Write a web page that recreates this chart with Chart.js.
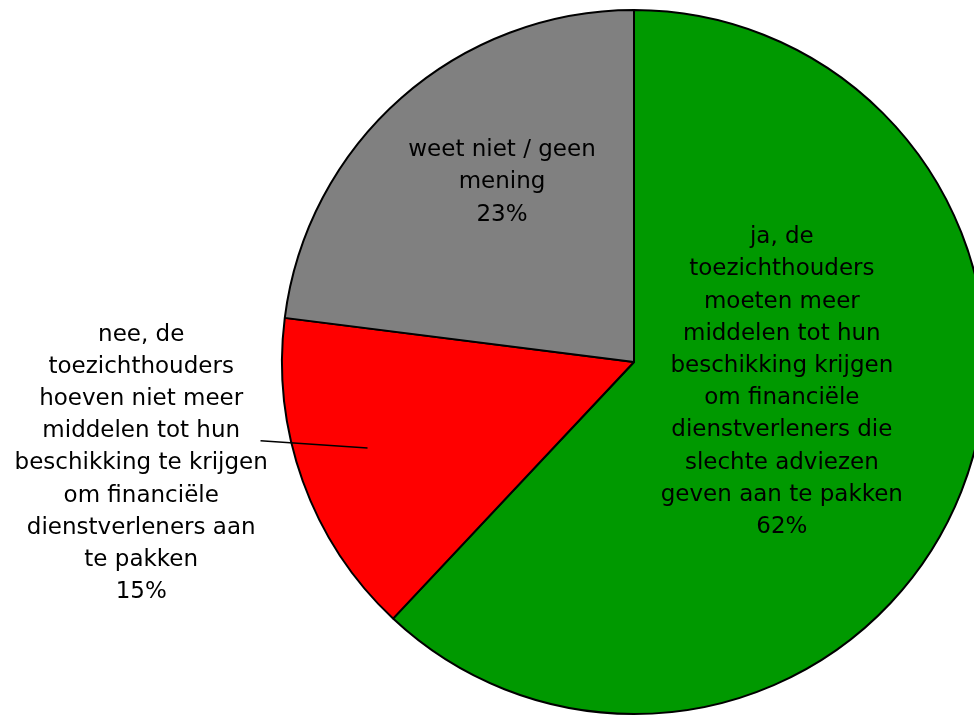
<!DOCTYPE html>
<html lang="nl">
<head>
    <meta charset="UTF-8">
    <title>Toezichthouders middelen</title>
    <script src="https://cdn.jsdelivr.net/npm/chart.js"></script>
    <style>
        html, body { margin: 0; padding: 0; background: #fff; overflow: hidden; }
    </style>
</head>
<body>
    <canvas id="pieChart" width="974" height="716"></canvas>

    <script>
        // data
        const categories = [
            ['ja, de', 'toezichthouders', 'moeten meer', 'middelen tot hun', 'beschikking krijgen', 'om financiële', 'dienstverleners die', 'slechte adviezen', 'geven aan te pakken'],
            ['nee, de', 'toezichthouders', 'hoeven niet meer', 'middelen tot hun', 'beschikking te krijgen', 'om financiële', 'dienstverleners aan', 'te pakken'],
            ['weet niet / geen', 'mening']
        ];
        const values = [62, 15, 23];
        const colors = ['#009900', '#ff0000', '#808080'];

        // label centre, relative to pie centre in units of radius
        const labelPos = [[0.42, 0.057], [-1.40, 0.288], [-0.375, -0.51]];
        // leader line for the red slice (radius fractions)
        const leader = [[-1.061, 0.224], [-0.757, 0.244]];

        const labelPlugin = {
            id: 'sliceLabels',
            afterDatasetsDraw(chart) {
                const ctx = chart.ctx;
                const arc = chart.getDatasetMeta(0).data[0];
                const cx = arc.x, cy = arc.y, r = arc.outerRadius;
                const lineH = 32.2;
                ctx.save();
                ctx.fillStyle = '#000';
                ctx.font = '23px "DejaVu Sans"';
                ctx.textAlign = 'center';
                ctx.textBaseline = 'middle';
                categories.forEach((lines, i) => {
                    const all = lines.concat([values[i] + '%']);
                    const x = cx + labelPos[i][0] * r;
                    const y0 = cy + labelPos[i][1] * r - (all.length - 1) * lineH / 2;
                    all.forEach((t, k) => ctx.fillText(t, x, y0 + k * lineH));
                });
                ctx.strokeStyle = '#000';
                ctx.lineWidth = 1.5;
                ctx.beginPath();
                ctx.moveTo(cx + leader[0][0] * r, cy + leader[0][1] * r);
                ctx.lineTo(cx + leader[1][0] * r, cy + leader[1][1] * r);
                ctx.stroke();
                ctx.restore();
            }
        };

        const ctx = document.getElementById('pieChart').getContext('2d');
        const pieChart = new Chart(ctx, {
            type: 'pie',
            data: {
                labels: categories.map(c => c.join(' ')),
                datasets: [{
                    data: values,
                    backgroundColor: colors,
                    borderColor: '#000',
                    borderWidth: 2
                }]
            },
            options: {
                responsive: false,
                animation: false,
                radius: 352,
                layout: { padding: { left: 294, right: 0, top: 10, bottom: 2 } },
                plugins: {
                    legend: { display: false },
                    tooltip: { enabled: false }
                }
            },
            plugins: [labelPlugin]
        });
    </script>
</body>
</html>
